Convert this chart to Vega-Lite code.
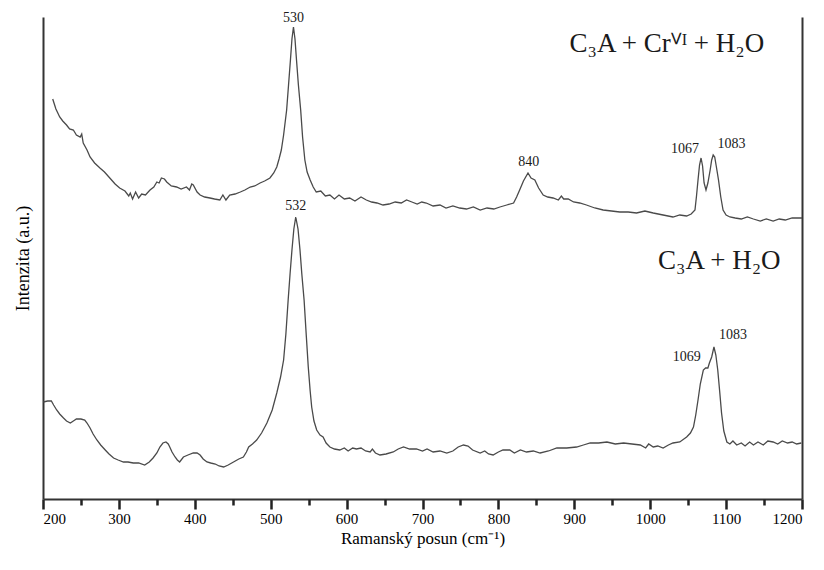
{
  "$schema": "https://vega.github.io/schema/vega-lite/v6.json",
  "width": 759,
  "height": 482,
  "autosize": {"type": "none"},
  "padding": {"left": 43, "top": 17, "right": 22, "bottom": 71},
  "background": "white",
  "config": {
    "font": "Liberation Serif, Times New Roman, serif",
    "view": {"stroke": null},
    "text": {"font": "Liberation Serif, Times New Roman, serif"}
  },
  "resolve": {"axis": {"x": "independent", "y": "independent"}},
  "datasets": {
    "spectra": [
      {"x": 212.8, "y": 400, "s": "Cr"}, {"x": 217, "y": 390, "s": "Cr"}, {"x": 222, "y": 382, "s": "Cr"}, {"x": 226, "y": 378, "s": "Cr"}, {"x": 231, "y": 374, "s": "Cr"}, {"x": 235, "y": 370, "s": "Cr"}, {"x": 240, "y": 369, "s": "Cr"}, {"x": 244, "y": 364, "s": "Cr"}, {"x": 249, "y": 362, "s": "Cr"}, {"x": 251, "y": 365, "s": "Cr"}, {"x": 253, "y": 356, "s": "Cr"}, {"x": 258, "y": 349, "s": "Cr"}, {"x": 262, "y": 342, "s": "Cr"}, {"x": 268, "y": 336, "s": "Cr"}, {"x": 275, "y": 331, "s": "Cr"}, {"x": 281, "y": 327, "s": "Cr"}, {"x": 288, "y": 321, "s": "Cr"}, {"x": 295, "y": 315, "s": "Cr"}, {"x": 301, "y": 311, "s": "Cr"}, {"x": 308, "y": 308, "s": "Cr"}, {"x": 313, "y": 303, "s": "Cr"}, {"x": 315, "y": 306, "s": "Cr"}, {"x": 318, "y": 300, "s": "Cr"}, {"x": 322, "y": 307, "s": "Cr"}, {"x": 326, "y": 301, "s": "Cr"}, {"x": 330, "y": 305, "s": "Cr"}, {"x": 335, "y": 304, "s": "Cr"}, {"x": 341, "y": 309, "s": "Cr"}, {"x": 346, "y": 312, "s": "Cr"}, {"x": 350, "y": 317, "s": "Cr"}, {"x": 353, "y": 316, "s": "Cr"}, {"x": 356, "y": 321, "s": "Cr"}, {"x": 360, "y": 320, "s": "Cr"}, {"x": 363, "y": 317, "s": "Cr"}, {"x": 369, "y": 313, "s": "Cr"}, {"x": 376, "y": 312, "s": "Cr"}, {"x": 382, "y": 310, "s": "Cr"}, {"x": 389, "y": 312, "s": "Cr"}, {"x": 393, "y": 309, "s": "Cr"}, {"x": 396, "y": 315, "s": "Cr"}, {"x": 398, "y": 314, "s": "Cr"}, {"x": 403, "y": 307, "s": "Cr"}, {"x": 407, "y": 304, "s": "Cr"}, {"x": 413, "y": 302, "s": "Cr"}, {"x": 420, "y": 301, "s": "Cr"}, {"x": 426, "y": 300, "s": "Cr"}, {"x": 433, "y": 299, "s": "Cr"}, {"x": 437, "y": 304, "s": "Cr"}, {"x": 441, "y": 299, "s": "Cr"}, {"x": 446, "y": 304, "s": "Cr"}, {"x": 453, "y": 305, "s": "Cr"}, {"x": 460, "y": 307, "s": "Cr"}, {"x": 466, "y": 309, "s": "Cr"}, {"x": 473, "y": 312, "s": "Cr"}, {"x": 479, "y": 313, "s": "Cr"}, {"x": 486, "y": 316, "s": "Cr"}, {"x": 492, "y": 318, "s": "Cr"}, {"x": 499, "y": 321, "s": "Cr"}, {"x": 504, "y": 326, "s": "Cr"}, {"x": 508, "y": 332, "s": "Cr"}, {"x": 511, "y": 340, "s": "Cr"}, {"x": 514, "y": 349, "s": "Cr"}, {"x": 517, "y": 364, "s": "Cr"}, {"x": 521, "y": 389, "s": "Cr"}, {"x": 523.5, "y": 414, "s": "Cr"}, {"x": 526, "y": 439, "s": "Cr"}, {"x": 528, "y": 460, "s": "Cr"}, {"x": 530, "y": 472, "s": "Cr"}, {"x": 532, "y": 460, "s": "Cr"}, {"x": 534, "y": 439, "s": "Cr"}, {"x": 536.5, "y": 414, "s": "Cr"}, {"x": 539.5, "y": 389, "s": "Cr"}, {"x": 542, "y": 362, "s": "Cr"}, {"x": 545, "y": 339, "s": "Cr"}, {"x": 548, "y": 327, "s": "Cr"}, {"x": 552, "y": 319, "s": "Cr"}, {"x": 556, "y": 312, "s": "Cr"}, {"x": 560, "y": 307, "s": "Cr"}, {"x": 566, "y": 308, "s": "Cr"}, {"x": 572, "y": 303, "s": "Cr"}, {"x": 578, "y": 304, "s": "Cr"}, {"x": 584, "y": 300, "s": "Cr"}, {"x": 590, "y": 304, "s": "Cr"}, {"x": 597, "y": 300, "s": "Cr"}, {"x": 604, "y": 301, "s": "Cr"}, {"x": 611, "y": 298, "s": "Cr"}, {"x": 619, "y": 302, "s": "Cr"}, {"x": 626, "y": 299, "s": "Cr"}, {"x": 633, "y": 297, "s": "Cr"}, {"x": 640, "y": 296, "s": "Cr"}, {"x": 648, "y": 294, "s": "Cr"}, {"x": 656, "y": 295, "s": "Cr"}, {"x": 664, "y": 297, "s": "Cr"}, {"x": 672, "y": 296, "s": "Cr"}, {"x": 679, "y": 299, "s": "Cr"}, {"x": 686, "y": 297, "s": "Cr"}, {"x": 693, "y": 295, "s": "Cr"}, {"x": 699, "y": 297, "s": "Cr"}, {"x": 705, "y": 296, "s": "Cr"}, {"x": 714, "y": 293, "s": "Cr"}, {"x": 723, "y": 294, "s": "Cr"}, {"x": 731, "y": 291, "s": "Cr"}, {"x": 740, "y": 293, "s": "Cr"}, {"x": 749, "y": 291, "s": "Cr"}, {"x": 758, "y": 290, "s": "Cr"}, {"x": 767, "y": 292, "s": "Cr"}, {"x": 776, "y": 289, "s": "Cr"}, {"x": 785, "y": 291, "s": "Cr"}, {"x": 794, "y": 290, "s": "Cr"}, {"x": 802, "y": 292, "s": "Cr"}, {"x": 811, "y": 294, "s": "Cr"}, {"x": 820, "y": 296, "s": "Cr"}, {"x": 824, "y": 302, "s": "Cr"}, {"x": 828, "y": 309, "s": "Cr"}, {"x": 833, "y": 318, "s": "Cr"}, {"x": 839, "y": 326, "s": "Cr"}, {"x": 843, "y": 321, "s": "Cr"}, {"x": 848, "y": 319, "s": "Cr"}, {"x": 853, "y": 311, "s": "Cr"}, {"x": 859, "y": 304, "s": "Cr"}, {"x": 865, "y": 302, "s": "Cr"}, {"x": 872, "y": 301, "s": "Cr"}, {"x": 879, "y": 299, "s": "Cr"}, {"x": 883, "y": 303, "s": "Cr"}, {"x": 886, "y": 300, "s": "Cr"}, {"x": 892, "y": 300, "s": "Cr"}, {"x": 899, "y": 297, "s": "Cr"}, {"x": 907, "y": 296, "s": "Cr"}, {"x": 916, "y": 294, "s": "Cr"}, {"x": 927, "y": 291, "s": "Cr"}, {"x": 938, "y": 289, "s": "Cr"}, {"x": 949, "y": 288, "s": "Cr"}, {"x": 960, "y": 287, "s": "Cr"}, {"x": 971, "y": 287, "s": "Cr"}, {"x": 982, "y": 286, "s": "Cr"}, {"x": 993, "y": 288, "s": "Cr"}, {"x": 1004, "y": 286, "s": "Cr"}, {"x": 1017, "y": 284, "s": "Cr"}, {"x": 1030, "y": 282, "s": "Cr"}, {"x": 1039, "y": 284, "s": "Cr"}, {"x": 1048, "y": 283, "s": "Cr"}, {"x": 1054, "y": 285, "s": "Cr"}, {"x": 1059, "y": 289, "s": "Cr"}, {"x": 1061, "y": 303, "s": "Cr"}, {"x": 1063, "y": 319, "s": "Cr"}, {"x": 1065, "y": 334, "s": "Cr"}, {"x": 1067, "y": 341, "s": "Cr"}, {"x": 1069, "y": 333, "s": "Cr"}, {"x": 1071, "y": 316, "s": "Cr"}, {"x": 1073.5, "y": 309, "s": "Cr"}, {"x": 1076, "y": 316, "s": "Cr"}, {"x": 1079, "y": 329, "s": "Cr"}, {"x": 1081, "y": 339, "s": "Cr"}, {"x": 1083, "y": 344, "s": "Cr"}, {"x": 1085, "y": 342, "s": "Cr"}, {"x": 1087, "y": 333, "s": "Cr"}, {"x": 1090, "y": 319, "s": "Cr"}, {"x": 1093, "y": 302, "s": "Cr"}, {"x": 1096, "y": 289, "s": "Cr"}, {"x": 1100, "y": 284, "s": "Cr"}, {"x": 1105, "y": 282, "s": "Cr"}, {"x": 1112, "y": 281, "s": "Cr"}, {"x": 1120, "y": 280, "s": "Cr"}, {"x": 1128, "y": 282, "s": "Cr"}, {"x": 1136, "y": 280, "s": "Cr"}, {"x": 1145, "y": 278, "s": "Cr"}, {"x": 1153, "y": 280, "s": "Cr"}, {"x": 1162, "y": 278, "s": "Cr"}, {"x": 1170, "y": 280, "s": "Cr"}, {"x": 1178, "y": 279, "s": "Cr"}, {"x": 1187, "y": 281, "s": "Cr"}, {"x": 1197, "y": 281, "s": "Cr"}, {"x": 1200, "y": 281, "s": "Cr"},

      {"x": 200.4, "y": 97, "s": "H"}, {"x": 206, "y": 98, "s": "H"}, {"x": 211, "y": 98, "s": "H"}, {"x": 214, "y": 94, "s": "H"}, {"x": 218, "y": 89, "s": "H"}, {"x": 222, "y": 85, "s": "H"}, {"x": 227, "y": 81, "s": "H"}, {"x": 231, "y": 78, "s": "H"}, {"x": 236, "y": 76, "s": "H"}, {"x": 240, "y": 78, "s": "H"}, {"x": 244, "y": 80, "s": "H"}, {"x": 250, "y": 80, "s": "H"}, {"x": 255, "y": 79, "s": "H"}, {"x": 258, "y": 76, "s": "H"}, {"x": 262, "y": 71, "s": "H"}, {"x": 266, "y": 65, "s": "H"}, {"x": 271, "y": 59, "s": "H"}, {"x": 276, "y": 54, "s": "H"}, {"x": 282, "y": 49, "s": "H"}, {"x": 287, "y": 45, "s": "H"}, {"x": 293, "y": 41, "s": "H"}, {"x": 299, "y": 39, "s": "H"}, {"x": 306, "y": 37, "s": "H"}, {"x": 312, "y": 37, "s": "H"}, {"x": 319, "y": 36, "s": "H"}, {"x": 326, "y": 36, "s": "H"}, {"x": 334, "y": 34, "s": "H"}, {"x": 340, "y": 37, "s": "H"}, {"x": 345, "y": 41, "s": "H"}, {"x": 350, "y": 46, "s": "H"}, {"x": 354, "y": 52, "s": "H"}, {"x": 358, "y": 56, "s": "H"}, {"x": 362, "y": 57, "s": "H"}, {"x": 365, "y": 55, "s": "H"}, {"x": 367, "y": 52, "s": "H"}, {"x": 370, "y": 47, "s": "H"}, {"x": 374, "y": 42, "s": "H"}, {"x": 377, "y": 39, "s": "H"}, {"x": 380, "y": 37, "s": "H"}, {"x": 385, "y": 42, "s": "H"}, {"x": 391, "y": 44, "s": "H"}, {"x": 398, "y": 46, "s": "H"}, {"x": 403, "y": 46, "s": "H"}, {"x": 407, "y": 44, "s": "H"}, {"x": 411, "y": 40, "s": "H"}, {"x": 416, "y": 37, "s": "H"}, {"x": 421, "y": 36, "s": "H"}, {"x": 427, "y": 35, "s": "H"}, {"x": 432, "y": 33, "s": "H"}, {"x": 438, "y": 32, "s": "H"}, {"x": 444, "y": 34, "s": "H"}, {"x": 451, "y": 37, "s": "H"}, {"x": 458, "y": 40, "s": "H"}, {"x": 464, "y": 42, "s": "H"}, {"x": 468, "y": 47, "s": "H"}, {"x": 471, "y": 52, "s": "H"}, {"x": 476, "y": 55, "s": "H"}, {"x": 481.5, "y": 59, "s": "H"}, {"x": 488, "y": 66, "s": "H"}, {"x": 495, "y": 76, "s": "H"}, {"x": 502, "y": 89, "s": "H"}, {"x": 508, "y": 106, "s": "H"}, {"x": 513, "y": 122, "s": "H"}, {"x": 517, "y": 139, "s": "H"}, {"x": 520, "y": 165, "s": "H"}, {"x": 523, "y": 199, "s": "H"}, {"x": 525.5, "y": 225, "s": "H"}, {"x": 528, "y": 249, "s": "H"}, {"x": 530.5, "y": 270, "s": "H"}, {"x": 533, "y": 282, "s": "H"}, {"x": 536, "y": 270, "s": "H"}, {"x": 538.6, "y": 249, "s": "H"}, {"x": 541, "y": 225, "s": "H"}, {"x": 544, "y": 199, "s": "H"}, {"x": 547, "y": 162, "s": "H"}, {"x": 549.5, "y": 132, "s": "H"}, {"x": 552, "y": 108, "s": "H"}, {"x": 554, "y": 92, "s": "H"}, {"x": 557, "y": 78, "s": "H"}, {"x": 560.6, "y": 69, "s": "H"}, {"x": 565, "y": 64, "s": "H"}, {"x": 569, "y": 62, "s": "H"}, {"x": 573, "y": 56, "s": "H"}, {"x": 578, "y": 52, "s": "H"}, {"x": 584, "y": 50, "s": "H"}, {"x": 591, "y": 49, "s": "H"}, {"x": 597, "y": 51, "s": "H"}, {"x": 602, "y": 48, "s": "H"}, {"x": 608, "y": 51, "s": "H"}, {"x": 613, "y": 50, "s": "H"}, {"x": 619, "y": 51, "s": "H"}, {"x": 625, "y": 48, "s": "H"}, {"x": 631, "y": 47, "s": "H"}, {"x": 634, "y": 50, "s": "H"}, {"x": 638, "y": 46, "s": "H"}, {"x": 644, "y": 44, "s": "H"}, {"x": 652, "y": 45, "s": "H"}, {"x": 661.5, "y": 47, "s": "H"}, {"x": 668, "y": 50, "s": "H"}, {"x": 675, "y": 52, "s": "H"}, {"x": 683, "y": 50, "s": "H"}, {"x": 692, "y": 50, "s": "H"}, {"x": 700, "y": 48, "s": "H"}, {"x": 706, "y": 50, "s": "H"}, {"x": 714, "y": 47, "s": "H"}, {"x": 723, "y": 48, "s": "H"}, {"x": 732, "y": 46, "s": "H"}, {"x": 740, "y": 48, "s": "H"}, {"x": 747, "y": 52, "s": "H"}, {"x": 754, "y": 54, "s": "H"}, {"x": 760, "y": 53, "s": "H"}, {"x": 766, "y": 49, "s": "H"}, {"x": 776, "y": 46, "s": "H"}, {"x": 782, "y": 48, "s": "H"}, {"x": 787, "y": 45, "s": "H"}, {"x": 793, "y": 44, "s": "H"}, {"x": 800, "y": 47, "s": "H"}, {"x": 806, "y": 49, "s": "H"}, {"x": 815, "y": 49, "s": "H"}, {"x": 821, "y": 46, "s": "H"}, {"x": 829, "y": 49, "s": "H"}, {"x": 837, "y": 47, "s": "H"}, {"x": 846, "y": 48, "s": "H"}, {"x": 855, "y": 46, "s": "H"}, {"x": 866, "y": 48, "s": "H"}, {"x": 877, "y": 51, "s": "H"}, {"x": 890, "y": 51, "s": "H"}, {"x": 903, "y": 52, "s": "H"}, {"x": 912, "y": 54, "s": "H"}, {"x": 921, "y": 56, "s": "H"}, {"x": 932, "y": 56, "s": "H"}, {"x": 943, "y": 57, "s": "H"}, {"x": 954, "y": 55, "s": "H"}, {"x": 965, "y": 56, "s": "H"}, {"x": 976, "y": 55, "s": "H"}, {"x": 987, "y": 54, "s": "H"}, {"x": 994, "y": 51, "s": "H"}, {"x": 998, "y": 55, "s": "H"}, {"x": 1004, "y": 52, "s": "H"}, {"x": 1010, "y": 53, "s": "H"}, {"x": 1017, "y": 51, "s": "H"}, {"x": 1024, "y": 54, "s": "H"}, {"x": 1030, "y": 56, "s": "H"}, {"x": 1039, "y": 57, "s": "H"}, {"x": 1048, "y": 62, "s": "H"}, {"x": 1053, "y": 66, "s": "H"}, {"x": 1057, "y": 72, "s": "H"}, {"x": 1060, "y": 84, "s": "H"}, {"x": 1063, "y": 99, "s": "H"}, {"x": 1066, "y": 115, "s": "H"}, {"x": 1070, "y": 129, "s": "H"}, {"x": 1073, "y": 131, "s": "H"}, {"x": 1076, "y": 131, "s": "H"}, {"x": 1078, "y": 136, "s": "H"}, {"x": 1081, "y": 142, "s": "H"}, {"x": 1084, "y": 152, "s": "H"}, {"x": 1086.5, "y": 144, "s": "H"}, {"x": 1089, "y": 129, "s": "H"}, {"x": 1091.5, "y": 108, "s": "H"}, {"x": 1094, "y": 86, "s": "H"}, {"x": 1097, "y": 68, "s": "H"}, {"x": 1101, "y": 57, "s": "H"}, {"x": 1105, "y": 55, "s": "H"}, {"x": 1109, "y": 58, "s": "H"}, {"x": 1114, "y": 54, "s": "H"}, {"x": 1120, "y": 56, "s": "H"}, {"x": 1125, "y": 53, "s": "H"}, {"x": 1131, "y": 57, "s": "H"}, {"x": 1136, "y": 54, "s": "H"}, {"x": 1142, "y": 57, "s": "H"}, {"x": 1149, "y": 54, "s": "H"}, {"x": 1155, "y": 58, "s": "H"}, {"x": 1162, "y": 57, "s": "H"}, {"x": 1168, "y": 55, "s": "H"}, {"x": 1174, "y": 58, "s": "H"}, {"x": 1181, "y": 56, "s": "H"}, {"x": 1187, "y": 57, "s": "H"}, {"x": 1193, "y": 55, "s": "H"}, {"x": 1199, "y": 56, "s": "H"}
    ],
    "labels": [
      {"x": 530, "y": 481, "t": "530", "k": "peak"},
      {"x": 840, "y": 337, "t": "840", "k": "peak"},
      {"x": 1046, "y": 350, "t": "1067", "k": "peak"},
      {"x": 1107, "y": 355, "t": "1083", "k": "peak"},
      {"x": 533, "y": 293, "t": "532", "k": "peak"},
      {"x": 1048, "y": 142, "t": "1069", "k": "peak"},
      {"x": 1109, "y": 164, "t": "1083", "k": "peak"},
      {"x": 1022, "y": 455, "t": "C₃A + Crⱽᴵ + H₂O", "k": "sample"},
      {"x": 1091, "y": 238, "t": "C₃A + H₂O", "k": "sample"}
    ]
  },
  "layer": [
    {
      "data": {"name": "spectra"},
      "mark": {"type": "line", "color": "#4a4a4a", "strokeWidth": 1.3},
      "encoding": {
        "x": {
          "field": "x", "type": "quantitative",
          "scale": {"domain": [200, 1200], "nice": false, "zero": false},
          "axis": {
            "orient": "bottom",
            "title": "Ramanský posun (cm⁻¹)",
            "titleFont": "Liberation Serif",
            "titleFontSize": 17, "titleFontWeight": "normal",
            "values": [200, 300, 400, 500, 600, 700, 800, 900, 1000, 1100, 1200],
            "labelExpr": "'' + datum.value",
            "labelFont": "Liberation Serif",
            "labelFontSize": 15,
            "tickSize": 10, "tickColor": "#222", "tickWidth": 2.5,
            "domainColor": "#333", "domainWidth": 2, "grid": false
          }
        },
        "y": {
          "field": "y", "type": "quantitative",
          "scale": {"domain": [0, 482], "nice": false, "zero": false},
          "axis": {
            "orient": "left",
            "title": "Intenzita (a.u.)",
            "titleFont": "Liberation Serif",
            "titleFontSize": 18, "titleFontWeight": "normal", "titlePadding": 11,
            "labels": false, "ticks": false, "domainColor": "#333", "domainWidth": 2, "grid": false
          }
        },
        "detail": {"field": "s"}
      }
    },
    {
      "data": {"name": "labels"},
      "mark": {"type": "text", "color": "#1a1a1a"},
      "encoding": {
        "x": {
          "field": "x", "type": "quantitative",
          "axis": {
            "orient": "bottom",
            "title": null,
            "values": [250, 350, 450, 550, 650, 750, 850, 950, 1050, 1150],
            "labels": false,
            "tickSize": 6, "tickColor": "#222", "tickWidth": 2.5,
            "domain": false, "grid": false
          }
        },
        "y": {
          "field": "y", "type": "quantitative",
          "axis": {"orient": "right", "title": null, "labels": false, "ticks": false, "domainColor": "#333", "domainWidth": 2, "grid": false}
        },
        "size": {"field": "k", "type": "ordinal", "scale": {"domain": ["peak", "sample"], "range": [14, 27]}, "legend": null},
        "text": {"field": "t"}
      }
    }
  ]
}
